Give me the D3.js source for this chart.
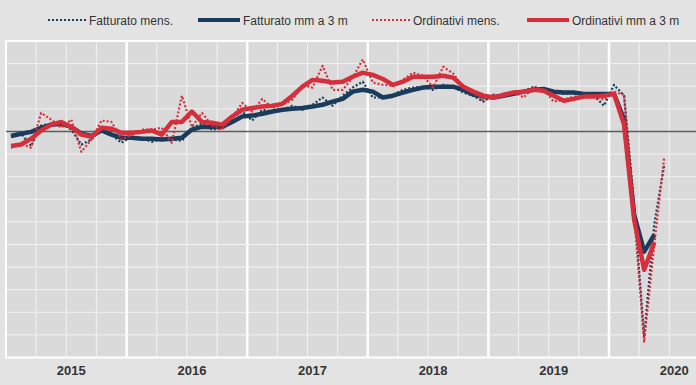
<!DOCTYPE html>
<html>
<head>
<meta charset="utf-8">
<script src="https://cdn.jsdelivr.net/npm/d3@7"></script>
<style>
	body { margin: 0; background: #e3e3e3; }
	svg { display: block; font-family: 'Liberation Sans', Arial, sans-serif; }
</style>
</head>
<body>
<svg id="chart" width="696" height="385"></svg>
<script>
'use strict';

// months from Jan 2015 (index 0) to Jun 2020 (index 65)
var years = ['2015', '2016', '2017', '2018', '2019', '2020'];

var fattMens = [
	98.8, 99.5, 96.8, 101.3, 101.7, 102.1, 100.4, 97.1, 98.2, 100.8, 99.3, 97.5,
	98.8, 98.6, 97.7, 98.4, 98.2, 97.9, 100.8, 101.7, 100.4, 100.8, 103.0, 104.4,
	102.4, 104.8, 104.4, 104.8, 105.7, 104.8, 105.9, 107.5, 105.7, 107.9, 109.7, 111.0,
	107.5, 107.5, 108.1, 109.2, 109.7, 109.9, 109.2, 110.3, 109.9, 108.6, 107.9, 106.6,
	108.1, 107.9, 108.6, 108.8, 109.9, 109.2, 108.8, 108.3, 108.6, 108.3, 107.9, 105.7,
	110.3, 107.9, 83.8, 54.6, 79.4, 92.6
];
var fattMm3 = [
	99.0, 99.5, 99.9, 100.8, 101.5, 101.7, 101.0, 99.5, 99.0, 100.2, 99.3, 98.6,
	98.6, 98.4, 98.4, 98.2, 98.4, 98.6, 100.4, 101.0, 101.0, 101.0, 102.1, 103.3,
	103.5, 103.9, 104.4, 104.8, 105.0, 105.2, 105.5, 105.9, 106.6, 107.2, 108.8, 109.2,
	108.8, 107.5, 107.9, 108.6, 109.2, 109.7, 109.9, 109.9, 109.9, 109.2, 108.1, 107.7,
	107.5, 107.9, 108.3, 108.8, 109.2, 109.4, 108.8, 108.6, 108.6, 108.3, 108.3, 108.3,
	108.3, 102.6, 81.6, 73.4, 77.1
];
var ordMens = [
	96.4, 97.3, 96.4, 104.1, 102.6, 100.8, 102.6, 95.5, 98.2, 102.4, 102.1, 98.2,
	99.3, 100.4, 100.4, 100.8, 97.5, 107.9, 101.0, 104.1, 101.3, 100.4, 103.0, 106.3,
	104.4, 107.2, 105.2, 105.9, 107.0, 110.3, 109.7, 114.5, 109.2, 109.2, 111.9, 115.9,
	110.8, 110.3, 110.1, 111.4, 113.0, 112.3, 109.7, 114.3, 112.8, 109.7, 108.6, 106.8,
	108.1, 107.7, 108.8, 107.5, 109.7, 109.2, 106.6, 107.0, 107.7, 107.5, 107.9, 107.0,
	108.8, 108.1, 81.6, 53.5, 74.9, 94.4
];
var ordMm3 = [
	96.8, 97.1, 98.4, 100.2, 101.5, 102.1, 101.0, 99.3, 98.8, 100.8, 100.6, 99.7,
	99.7, 99.9, 100.2, 99.3, 102.1, 102.1, 104.4, 102.1, 101.9, 101.5, 103.3, 104.8,
	105.2, 105.5, 105.7, 106.1, 107.9, 109.9, 111.4, 111.2, 110.8, 111.0, 112.1, 113.0,
	112.5, 111.6, 110.3, 111.0, 112.1, 112.1, 112.1, 112.3, 111.9, 109.9, 108.8, 107.9,
	107.5, 108.1, 108.6, 108.8, 109.2, 109.0, 107.9, 106.8, 107.2, 107.7, 107.7, 107.9,
	108.3, 101.5, 80.5, 69.4, 75.4
];
var yTicks = d3.range(50, 121, 5);
var BASELINE = 100;

var NAVY = '#1b3b5a';
var RED = '#d62f3c';
var TEXT = '#333333';

var plot = { left: 6, right: 696, top: 41, bottom: 357.5 };

var svg = d3.select('#chart');

var x = d3.scaleLinear()
	.domain([0, 60])
	.range([plot.left, 609]);
var y = d3.scaleLinear()
	.domain([50, 120])
	.range([plot.bottom, plot.top]);

var lastMonth = x.invert(plot.right);

// plot background
svg.append('rect')
	.attr('x', plot.left)
	.attr('y', plot.top)
	.attr('width', plot.right - plot.left)
	.attr('height', plot.bottom - plot.top)
	.style('fill', '#dadada');

// thin grid
svg.append('g')
	.selectAll('line')
	.data(yTicks)
	.join('line')
	.attr('x1', plot.left)
	.attr('x2', plot.right)
	.attr('y1', function(d) { return y(d); })
	.attr('y2', function(d) { return y(d); })
	.style('stroke', '#f2f2f2')
	.style('stroke-width', 1);

svg.append('g')
	.selectAll('line')
	.data(d3.range(0, lastMonth, 3).filter(function(m) { return m % 12 !== 0; }))
	.join('line')
	.attr('x1', function(d) { return x(d); })
	.attr('x2', function(d) { return x(d); })
	.attr('y1', plot.top)
	.attr('y2', plot.bottom)
	.style('stroke', '#f2f2f2')
	.style('stroke-width', 1);

// year separators
svg.append('g')
	.selectAll('line')
	.data(d3.range(12, lastMonth, 12))
	.join('line')
	.attr('x1', function(d) { return x(d); })
	.attr('x2', function(d) { return x(d); })
	.attr('y1', plot.top)
	.attr('y2', plot.bottom)
	.style('stroke', '#ffffff')
	.style('stroke-width', 2.5);

// frame
svg.append('path')
	.attr('d', 'M' + plot.right + ',' + plot.top + 'H' + plot.left + 'V' + plot.bottom + 'H' + plot.right)
	.style('fill', 'none')
	.style('stroke', '#ffffff')
	.style('stroke-width', 2);

// reference line
svg.append('line')
	.attr('x1', plot.left)
	.attr('x2', plot.right)
	.attr('y1', y(BASELINE))
	.attr('y2', y(BASELINE))
	.style('stroke', '#5c5c5c')
	.style('stroke-width', 1.6);

var line = d3.line()
	.x(function(d, i) { return x(i + 0.5); })
	.y(function(d) { return y(d); });

var series = [
	{ data: fattMens, color: NAVY, dotted: true },
	{ data: fattMm3, color: NAVY, dotted: false },
	{ data: ordMens, color: RED, dotted: true },
	{ data: ordMm3, color: RED, dotted: false }
];

series.forEach(function(s) {
	svg.append('path')
		.datum(s.data)
		.attr('d', line)
		.style('fill', 'none')
		.style('stroke', s.color)
		.style('stroke-width', s.dotted ? 2.2 : 4.5)
		.style('stroke-dasharray', s.dotted ? '2,2' : null)
		.style('stroke-linejoin', 'round');
});

// year labels
svg.append('g')
	.selectAll('text')
	.data(years)
	.join('text')
	.attr('x', function(d, i) { return x(i * 12 + 6) + 5; })
	.attr('y', 375)
	.attr('text-anchor', 'middle')
	.style('font-size', '13px')
	.style('font-weight', 'bold')
	.style('fill', TEXT)
	.text(function(d) { return d; });

// legend
var legendItems = [
	{ label: 'Fatturato mens.', color: NAVY, dotted: true, x1: 48, x2: 86 },
	{ label: 'Fatturato mm a 3 m', color: NAVY, dotted: false, x1: 198, x2: 240 },
	{ label: 'Ordinativi mens.', color: RED, dotted: true, x1: 372, x2: 410 },
	{ label: 'Ordinativi mm a 3 m', color: RED, dotted: false, x1: 527, x2: 569 }
];
var legendY = 20;

var legend = svg.append('g')
	.selectAll('g')
	.data(legendItems)
	.join('g');

legend.append('line')
	.attr('x1', function(d) { return d.x1; })
	.attr('x2', function(d) { return d.x2; })
	.attr('y1', legendY)
	.attr('y2', legendY)
	.style('stroke', function(d) { return d.color; })
	.style('stroke-width', function(d) { return d.dotted ? 2 : 4; })
	.style('stroke-dasharray', function(d) { return d.dotted ? '2,2' : null; });

legend.append('text')
	.attr('x', function(d) { return d.x2 + 3; })
	.attr('y', legendY + 4.5)
	.style('font-size', '12px')
	.style('fill', TEXT)
	.text(function(d) { return d.label; });
</script>
</body>
</html>
